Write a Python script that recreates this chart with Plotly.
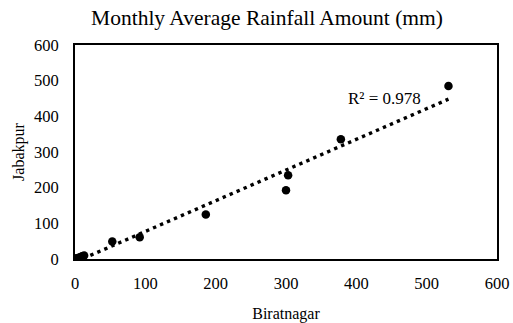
import numpy as np
import plotly.graph_objects as go

# Monthly average rainfall (mm) at the two stations
biratnagar = [531, 378, 303, 300, 186, 92, 53, 13, 10, 7, 4, 2]
jabalpur = [485, 336, 235, 193, 125, 61, 49, 10, 8, 5, 3, 2]

x_ticks = [0, 100, 200, 300, 400, 500, 600]
y_ticks = [0, 100, 200, 300, 400, 500, 600]
r2_label = "R² = 0.978"
title_text = "Monthly Average Rainfall Amount (mm)"

FONT = "Liberation Serif"

# Linear trend line
bx = np.array(biratnagar, dtype=float)
jy = np.array(jabalpur, dtype=float)
slope, intercept = np.polyfit(bx, jy, 1)
tx = np.array([bx.min(), bx.max()])
ty = slope * tx + intercept

fig = go.Figure()
fig.add_trace(go.Scatter(
    x=tx, y=ty, mode="lines",
    line=dict(color="black", width=3.4, dash="3.4px,4.2px"),
    hoverinfo="skip", showlegend=False,
))
fig.add_trace(go.Scatter(
    x=biratnagar, y=jabalpur, mode="markers",
    marker=dict(color="black", size=8.5),
    showlegend=False,
))

# R² label, positioned in data coordinates
fig.add_annotation(
    x=440, y=449, xref="x", yref="y", text=r2_label, showarrow=False,
    font=dict(family=FONT, size=17, color="black"),
)

fig.update_layout(
    width=513, height=323,
    margin=dict(l=75, r=16, t=45, b=64, autoexpand=False),
    paper_bgcolor="white", plot_bgcolor="white",
    font=dict(family=FONT, size=16, color="black"),
    title=dict(text=title_text, x=267 / 513, xanchor="center",
               y=1 - 17 / 323, yanchor="middle",
               font=dict(family=FONT, size=21.5, color="black")),
)

fig.update_xaxes(
    range=[0, 600], tickvals=x_ticks, showgrid=False, zeroline=False,
    showline=True, linecolor="black", linewidth=2, mirror=True,
    ticks="", ticklabelstandoff=8, automargin=False,
    tickfont=dict(family=FONT, size=16.5, color="black"),
    title=dict(text="Biratnagar", standoff=18,
               font=dict(family=FONT, size=16, color="black")),
)
fig.update_yaxes(
    range=[0, 600], tickvals=y_ticks, showgrid=False, zeroline=False,
    showline=True, linecolor="black", linewidth=2, mirror=True,
    ticks="", ticklabelstandoff=11, automargin=False,
    tickfont=dict(family=FONT, size=16.5, color="black"),
    title=dict(text="Jabakpur", standoff=5,
               font=dict(family=FONT, size=16, color="black")),
)

fig.write_html("out.html")
